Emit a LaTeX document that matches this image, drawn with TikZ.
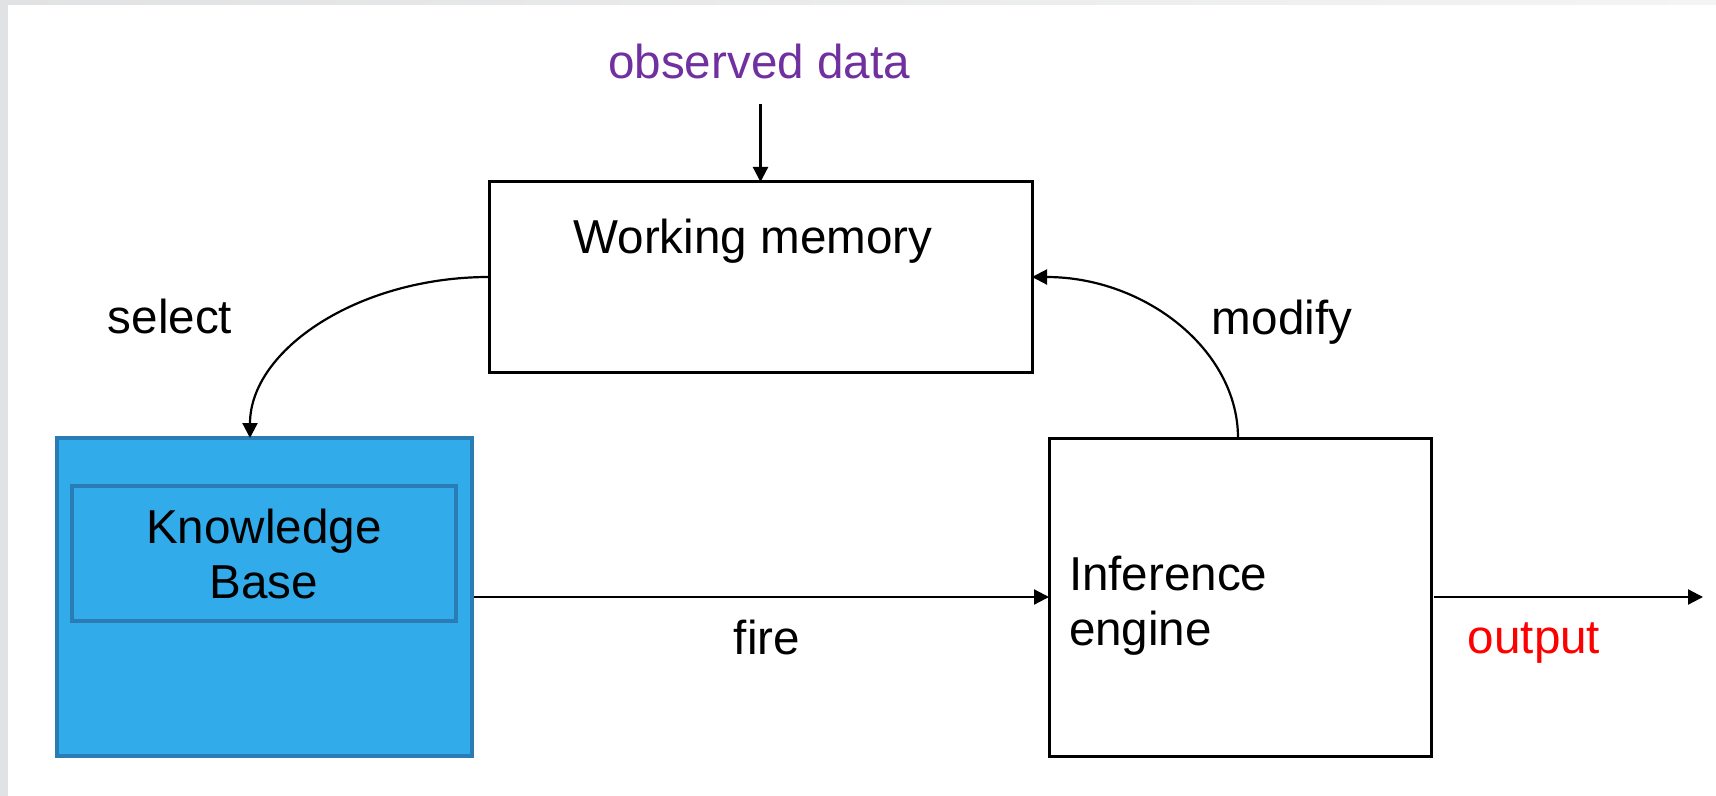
\documentclass[tikz,border=0pt]{standalone}
\usepackage{fontspec}
\setmainfont{Liberation Sans}
\usetikzlibrary{arrows.meta}
\definecolor{kbfill}{HTML}{31ABEA}
\definecolor{kbline}{HTML}{2A7DB4}
\definecolor{obspurple}{HTML}{7030A0}
\definecolor{stripgray}{HTML}{E1E2E3}
\definecolor{stripgraylight}{HTML}{F4F4F4}
\tikzset{
  plainbox/.style={draw=black, line width=1.5pt, fill=white, inner sep=0pt, outer sep=0pt},
  kbbox/.style={draw=kbline, line width=1.6pt, fill=kbfill, inner sep=0pt, outer sep=0pt},
  lbl/.style={inner sep=0pt, outer sep=0pt, font=\fontsize{23.8}{27.5}\selectfont},
  arr/.style={draw=black, line width=1.1pt, -{Triangle[length=7.5pt, width=7.5pt]}},
}
\begin{document}
\begin{tikzpicture}[x=0.5pt, y=-0.5pt]
\useasboundingbox (0,0) rectangle (1716,796);
% background strips
\fill[white] (0,0) rectangle (1716,796);
\shade[left color=stripgray, right color=stripgraylight] (0,0) rectangle (1716,5);
\fill[stripgray] (0,0) rectangle (8,796);

% boxes
\node[plainbox, minimum width=271.5pt, minimum height=95pt] (wm) at (760.5,277) {};
\node[kbbox, minimum width=207.5pt, minimum height=159pt] (kb) at (264.5,597) {};
\node[kbbox, minimum width=192pt, minimum height=67.5pt] (kbinner) at (264,553.5) {};
\node[plainbox, minimum width=191pt, minimum height=159pt] (ie) at (1240,597) {};

% texts
\node[lbl, anchor=base] (wmtext) at (753,254) {Working memory};
\node[lbl, align=center] (kbtext) at (264,554) {Knowledge\\Base};
\node[lbl, align=left, anchor=west] (ietext) at (1069,606) {Inference\\engine};
\node[lbl, anchor=base, text=obspurple] (obs) at (759,79) {observed data};
\node[lbl, anchor=base] (sel) at (170,334) {select};
\node[lbl, anchor=base] (mod) at (1282,335) {modify};
\node[lbl, anchor=base] (fire) at (767,654) {fire};
\node[lbl, anchor=base, text=red] (outp) at (1534,653) {output};

% connector ends
\path (kb.north west) ++(193,0) coordinate (selend);
\coordinate (outend) at (1703,597);

% connectors
\draw[arr] ([yshift=-12.5pt]obs.base -| wm.north) -- (wm.north);
\draw[arr] (wm.west) .. controls +(-131,0) and +(0,-88) .. (selend);
\draw[arr] ([xshift=-1pt]ie.north) .. controls +(0,-88) and +(113,0) .. (wm.east);
\draw[arr] ([xshift=1pt]kb.east) -- (ie.west);
\draw[arr] ([xshift=1.5pt]ie.east) -- (outend);
\end{tikzpicture}
\end{document}
